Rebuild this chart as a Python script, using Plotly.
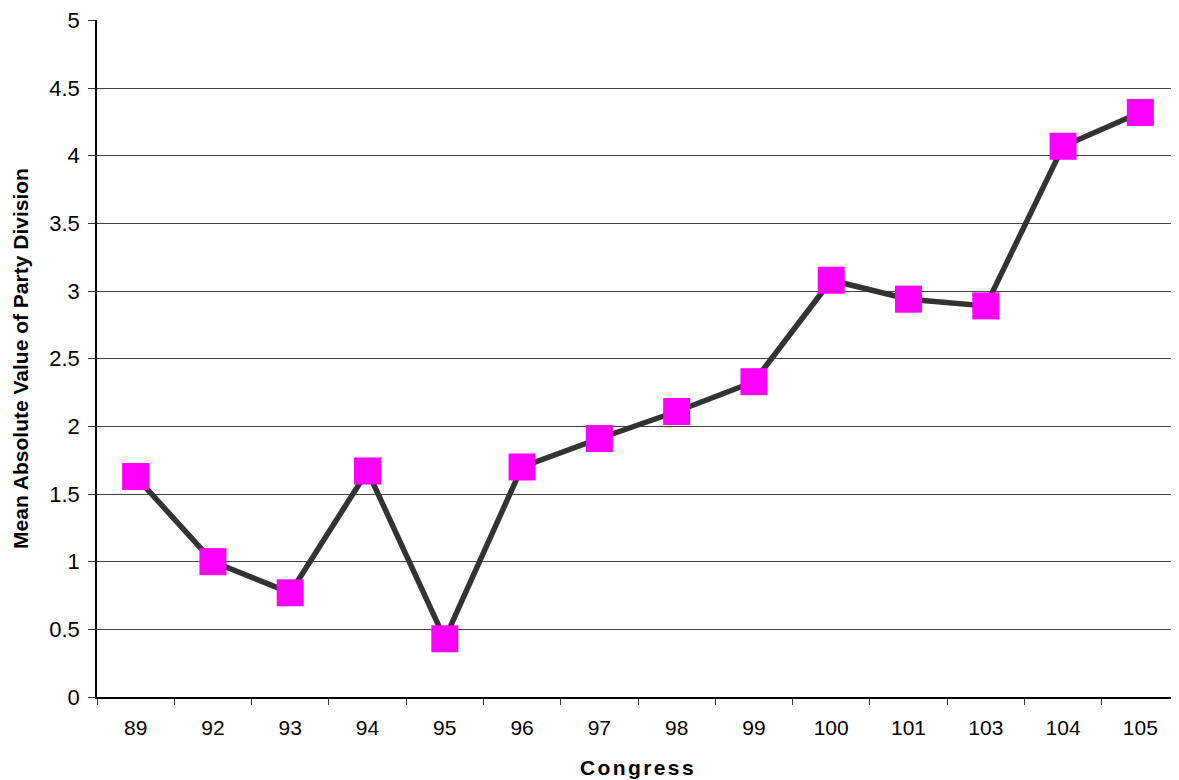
import plotly.graph_objects as go

congress = ["89", "92", "93", "94", "95", "96", "97", "98", "99", "100", "101", "103", "104", "105"]
party_division = [1.63, 1.00, 0.77, 1.67, 0.43, 1.70, 1.91, 2.11, 2.33, 3.08, 2.94, 2.89, 4.07, 4.32]
y_ticks = [0, 0.5, 1, 1.5, 2, 2.5, 3, 3.5, 4, 4.5, 5]
y_tick_labels = ["0", "0.5", "1", "1.5", "2", "2.5", "3", "3.5", "4", "4.5", "5"]

fig = go.Figure()
fig.add_trace(go.Scatter(
    x=congress, y=party_division, mode="lines+markers",
    line=dict(color="#333333", width=5.5),
    marker=dict(symbol="square", size=27, color="#ff00ff", line=dict(width=0)),
    showlegend=False,
))

font = "Liberation Sans, Arial, sans-serif"
fig.update_layout(
    width=1171, height=772,
    margin=dict(l=89, r=0, t=12, b=83),
    paper_bgcolor="white", plot_bgcolor="white",
    font=dict(family=font, size=22, color="black"),
    xaxis=dict(
        type="category", tickson="boundaries", ticks="outside", ticklen=6,
        tickcolor="#333333", tickwidth=1,
        showline=True, linecolor="black", linewidth=1.5,
        showgrid=False, range=[-0.5, 13.5],
        ticklabelstandoff=11,
        title=dict(text="<b><span style='letter-spacing:2.4px'>Congress</span></b>",
                   font=dict(size=21), standoff=22),
        tickfont=dict(size=21),
    ),
    yaxis=dict(
        range=[0, 5.003], tickvals=y_ticks, ticktext=y_tick_labels,
        ticks="outside", ticklen=7, tickcolor="#333333",
        showline=True, linecolor="black", linewidth=1.5,
        showgrid=True, gridcolor="#444444", gridwidth=1,
        zeroline=False, ticklabelstandoff=4, ticklabeloverflow="allow",
        title=dict(text="<b>Mean Absolute Value of Party Division</b>", font=dict(size=21), standoff=15),
        tickfont=dict(size=22),
    ),
)

fig.write_html("out.html")
